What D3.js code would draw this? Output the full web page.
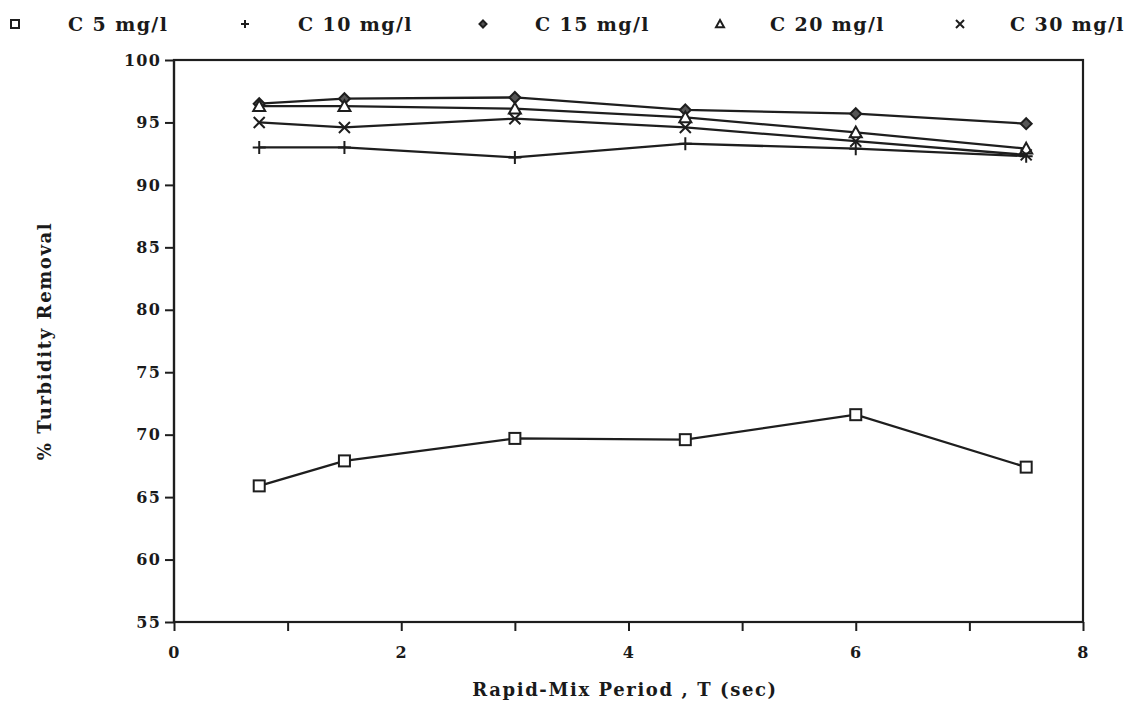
<!DOCTYPE html>
<html><head><meta charset="utf-8">
<script src="https://cdn.jsdelivr.net/npm/d3@7"></script>
<style>
html,body{margin:0;padding:0;background:#fff;}
svg text{font-family:"DejaVu Serif",serif;font-weight:bold;fill:#1a1a1a;}
</style></head>
<body><svg id="c" width="1141" height="702"></svg>
<script>
const periods = [0.75, 1.5, 3, 4.5, 6, 7.5];
const c5  = [65.9, 67.9, 69.7, 69.6, 71.6, 67.4];
const c10 = [93.0, 93.0, 92.2, 93.3, 92.9, 92.3];
const c15 = [96.5, 96.9, 97.0, 96.0, 95.7, 94.9];
const c20 = [96.3, 96.3, 96.1, 95.4, 94.2, 92.9];
const c30 = [95.0, 94.6, 95.3, 94.6, 93.5, 92.4];
const seriesNames = ["C 5 mg/l", "C 10 mg/l", "C 15 mg/l", "C 20 mg/l", "C 30 mg/l"];
const seriesSymbols = ["square", "plus", "diamond", "triangle", "cross"];
const xTicks = [0, 2, 4, 6, 8];
const yTicks = [55, 60, 65, 70, 75, 80, 85, 90, 95, 100];

const series = [c5, c10, c15, c20, c30].map((v, i) => ({name: seriesNames[i], sym: seriesSymbols[i], values: v}));

const svg = d3.select("#c");
const m = {l: 174, r: 1083, t: 60, b: 622};
const x = d3.scaleLinear().domain([0, 8]).range([m.l, m.r]);
const y = d3.scaleLinear().domain([55, 100]).range([m.b, m.t]);
const ink = "#1e1e1e";

// frame
svg.append("rect").attr("x", m.l).attr("y", m.t).attr("width", m.r - m.l).attr("height", m.b - m.t)
  .attr("fill", "none").attr("stroke", ink).attr("stroke-width", 2.2);

// axes
const xAxis = svg.append("g").attr("transform", `translate(0,${m.b})`)
  .call(d3.axisBottom(x).tickValues(d3.range(0, 9, 1)).tickSize(9).tickFormat(d => xTicks.includes(d) ? d : ""));
const yAxis = svg.append("g").attr("transform", `translate(${m.l},0)`)
  .call(d3.axisLeft(y).tickValues(yTicks).tickSize(9).tickFormat(d => d));
[xAxis, yAxis].forEach(g => {
  g.select(".domain").attr("stroke", ink).attr("stroke-width", 2.2);
  g.selectAll(".tick line").attr("stroke", ink).attr("stroke-width", 2);
  g.selectAll(".tick text").attr("font-size", 16).attr("fill", ink).attr("font-family", "DejaVu Serif")
    .attr("font-weight", "bold").attr("letter-spacing", 1.2);
});
xAxis.select(".domain").attr("d", `M${m.l},0H${m.r}`);
yAxis.select(".domain").attr("d", `M0,${m.b}V${m.t}`);
xAxis.selectAll(".tick text").attr("dy", "1.5em");
yAxis.selectAll(".tick text").attr("x", -13);

// titles
svg.append("text").attr("x", 625).attr("y", 696).attr("text-anchor", "middle").attr("font-size", 18)
  .attr("letter-spacing", 1.6).text("Rapid-Mix Period , T  (sec)");
svg.append("text").attr("transform", `translate(51,${(m.t + m.b) / 2}) rotate(-90)`).attr("text-anchor", "middle")
  .attr("font-size", 18).attr("letter-spacing", 1.6).text("% Turbidity Removal");

// marker generator
function marker(g, sym, cx, cy, s) {
  let el;
  if (sym === "square") el = g.append("rect").attr("x", cx - s).attr("y", cy - s).attr("width", 2 * s).attr("height", 2 * s).attr("fill", "#fff");
  else if (sym === "plus") el = g.append("path").attr("d", `M${cx - s},${cy}H${cx + s}M${cx},${cy - s}V${cy + s}`).attr("fill", "none");
  else if (sym === "diamond") el = g.append("path").attr("d", `M${cx},${cy - s}L${cx + s},${cy}L${cx},${cy + s}L${cx - s},${cy}Z`).attr("fill", "#555");
  else if (sym === "triangle") el = g.append("path").attr("d", `M${cx},${cy - s}L${cx + s},${cy + s * 0.8}L${cx - s},${cy + s * 0.8}Z`).attr("fill", "#fff");
  else el = g.append("path").attr("d", `M${cx - s},${cy - s}L${cx + s},${cy + s}M${cx + s},${cy - s}L${cx - s},${cy + s}`).attr("fill", "none");
  el.attr("stroke", ink).attr("stroke-width", 2);
  return el;
}
const sizes = {square: 5.5, plus: 6.5, diamond: 5.5, triangle: 6, cross: 5.5};

const line = d3.line().x((d, i) => x(periods[i])).y(d => y(d));
const plot = svg.append("g");
series.forEach(s => {
  plot.append("path").attr("d", line(s.values)).attr("fill", "none").attr("stroke", ink).attr("stroke-width", 2.3);
});
series.forEach(s => {
  const g = plot.append("g");
  s.values.forEach((v, i) => marker(g, s.sym, x(periods[i]), y(v), sizes[s.sym]));
});

// legend
const legX = [15, 245, 483, 720, 960];
const legTextX = [68, 298, 535, 770, 1010];
series.forEach((s, i) => {
  const g = svg.append("g");
  marker(g, s.sym, legX[i], 24, s.sym === "diamond" ? 3.5 : 4);
  g.append("text").attr("x", legTextX[i]).attr("y", 31).attr("font-size", 19).attr("letter-spacing", 1.4).text(s.name);
});
</script></body></html>
